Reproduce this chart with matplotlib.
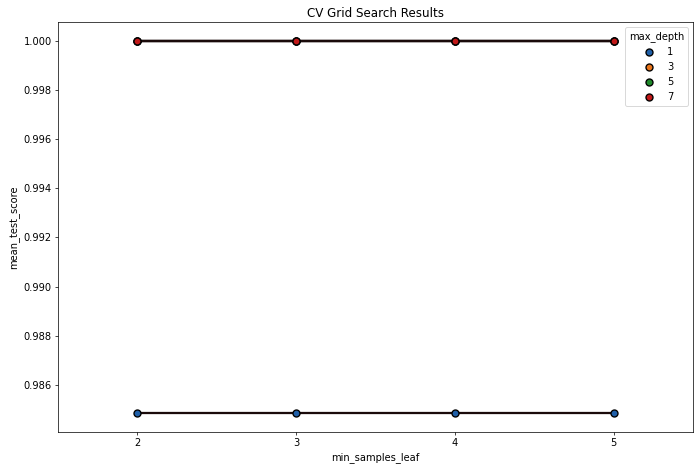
import matplotlib
matplotlib.use('Agg')
from matplotlib import pyplot as plt

matplotlib.rcParams['font.size'] = 11

# grid search results
min_samples_leaf = [2, 3, 4, 5]
max_depths = [1, 3, 5, 7]
scores_depth_1 = [0.98485, 0.98485, 0.98485, 0.98485]
scores_depth_3 = [1.0, 1.0, 1.0, 1.0]
scores_depth_5 = [1.0, 1.0, 1.0, 1.0]
scores_depth_7 = [1.0, 1.0, 1.0, 1.0]
colors = ['#1f5fa8', '#e8741a', '#1f8a2a', '#c01818']

fig = plt.figure(figsize=(700 / 65, 468 / 65), dpi=65)
ax = fig.add_axes([0.083, 0.077, 0.907, 0.876])

xpos = list(range(len(min_samples_leaf)))
series = [scores_depth_1, scores_depth_3, scores_depth_5, scores_depth_7]
for depth, ys, col in zip(max_depths, series, colors):
    ax.plot(xpos, ys, color='#1a0a0a', linewidth=2.5, zorder=2)
    ax.scatter(xpos, ys, s=60, color=col, edgecolor='black',
               linewidth=1.5, zorder=3, label=str(depth))

ax.set_xticks(xpos)
ax.set_xticklabels([str(v) for v in min_samples_leaf])
ax.set_xlim(-0.5, len(xpos) - 0.5)
ax.set_xlabel('min_samples_leaf')
ax.set_ylabel('mean_test_score')
ax.set_title('CV Grid Search Results')
ax.yaxis.set_major_formatter(matplotlib.ticker.FormatStrFormatter('%.3f'))
ax.legend(title='max_depth', loc='upper right')

fig.savefig('out.png', dpi=65)
